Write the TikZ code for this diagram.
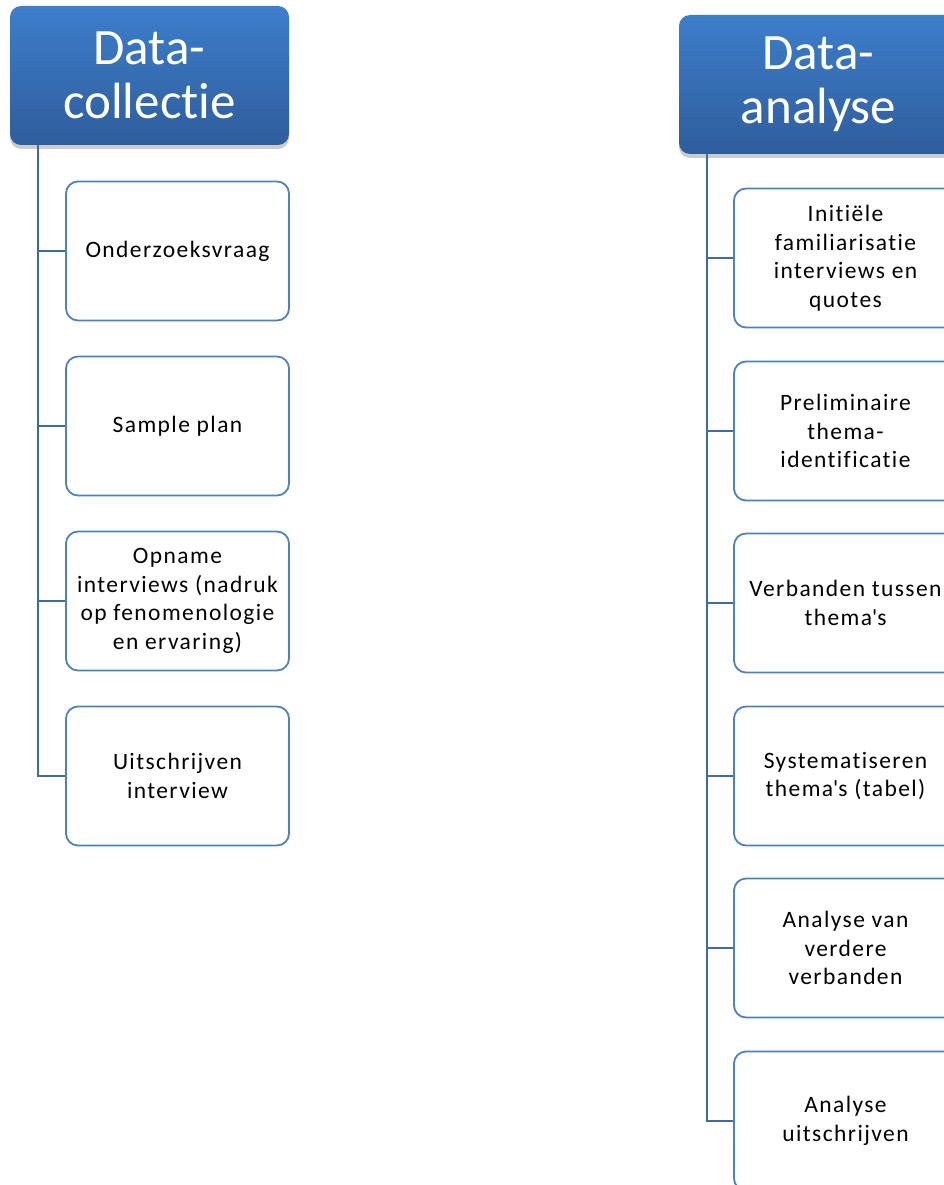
\documentclass[tikz,border=0pt]{standalone}
\usepackage{fontspec}
\setmainfont{Carlito}[Ligatures={NoCommon}]
\newfontfamily\boxfont{Carlito}[LetterSpace=6,Ligatures={NoCommon}]
\usetikzlibrary{shadows}
\definecolor{hdtop}{HTML}{3D7ECB}
\definecolor{hdbot}{HTML}{2F5D9C}
\definecolor{bxline}{HTML}{4F81BD}
\definecolor{cnline}{HTML}{3E6BA3}
\tikzset{
  header/.style={rectangle, rounded corners=11pt, minimum width=279pt, minimum height=139pt,
    top color=hdtop, bottom color=hdbot, draw=none, text=white, align=center,
    font=\fontsize{51}{54}\selectfont,
    drop shadow={shadow xshift=0pt, shadow yshift=-4pt, fill=black, opacity=0.2}},
  item/.style={rectangle, rounded corners=12pt, minimum width=223pt, minimum height=139pt,
    draw=bxline, line width=1.8pt, fill=white, align=center, text=black,
    font=\boxfont\fontsize{23.5}{28.5}\selectfont},
  conn/.style={draw=cnline, line width=2pt}
}
\begin{document}
\begin{tikzpicture}[x=1pt,y=-1pt]
\useasboundingbox (0,0) rectangle (944,1185);
\clip (0,0) rectangle (944,1185);
\fill[white] (0,0) rectangle (944,1185);
% left column
\node[header] (h1) at (149.5,75.5) {Data-\\collectie};
\node[item] (l1) at (177.5,251) {Onderzoeksvraag};
\node[item] (l2) at (177.5,426) {Sample plan};
\node[item] (l3) at (177.5,601) {Opname\\interviews (nadruk\\op fenomenologie\\en ervaring)};
\node[item] (l4) at (177.5,776) {Uitschrijven\\interview};
\coordinate (t1) at (38,145);
\draw[conn] (t1) |- (l4.west);
\foreach \n in {l1,l2,l3} \draw[conn] (t1 |- \n.west) -- (\n.west);
% right column
\node[header] (h2) at (818.5,84.5) {Data-\\analyse};
\node[item] (r1) at (845.5,258) {Initiële\\familiarisatie\\interviews en\\quotes};
\node[item] (r2) at (845.5,431) {Preliminaire\\thema-\\identificatie};
\node[item] (r3) at (845.5,603) {Verbanden tussen\\thema\textquotesingle s};
\node[item] (r4) at (845.5,776) {Systematiseren\\thema\textquotesingle s (tabel)};
\node[item] (r5) at (845.5,948) {Analyse van\\verdere\\verbanden};
\node[item] (r6) at (845.5,1121) {Analyse\\uitschrijven};
\coordinate (t2) at (707,153);
\draw[conn] (t2) |- (r6.west);
\foreach \n in {r1,r2,r3,r4,r5} \draw[conn] (t2 |- \n.west) -- (\n.west);
\end{tikzpicture}
\end{document}
